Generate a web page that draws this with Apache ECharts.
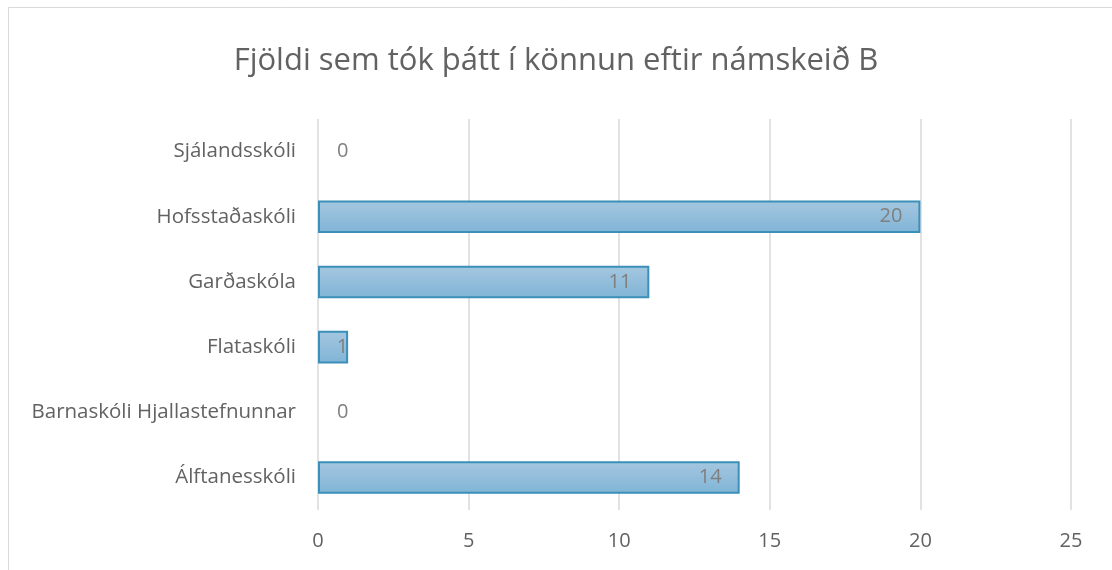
<!DOCTYPE html>
<html>
<head>
<meta charset="utf-8">
<title>Fjöldi sem tók þátt í könnun eftir námskeið B</title>
<script src="https://cdn.jsdelivr.net/npm/echarts@6/dist/echarts.min.js"></script>
<style>
  html, body { margin: 0; padding: 0; background: #fff; overflow: hidden; }
  #chart { width: 1112px; height: 570px; }
</style>
</head>
<body>
<div id="chart"></div>
<script>
// gögn lesin af myndinni (neðst fyrst, eins og í Excel)
var skolar = ['Álftanesskóli', 'Barnaskóli Hjallastefnunnar', 'Flataskóli', 'Garðaskóla', 'Hofsstaðaskóli', 'Sjálandsskóli']
var fjoldi = [14, 0, 1, 11, 20, 0]
var xTicks = [0, 5, 10, 15, 20, 25]

var chart = echarts.init(document.getElementById('chart'))
var font = '"Open Sans", "Noto Sans", sans-serif'

var option = {
  animation: false,
  title: {
    text: 'Fjöldi sem tók þátt í könnun eftir námskeið B',
    left: 'center',
    top: 41,
    textStyle: {
      fontFamily: font,
      fontSize: 31,
      fontWeight: 'normal',
      color: '#626262'
    }
  },
  graphic: [
    {
      // rammi utan um myndritið
      type: 'rect',
      silent: true,
      shape: { x: 8.5, y: 7.5, width: 1200, height: 700 },
      style: { fill: 'none', stroke: '#d9d9d9', lineWidth: 1 }
    }
  ],
  grid: {
    left: 318,
    right: 41,
    top: 119,
    bottom: 60,
    containLabel: false
  },
  xAxis: {
    type: 'value',
    min: xTicks[0],
    max: xTicks[xTicks.length - 1],
    interval: 5,
    axisLine: { show: false },
    axisTick: { show: false },
    axisLabel: {
      fontFamily: font,
      fontSize: 20,
      color: '#626262',
      margin: 21
    },
    splitLine: {
      lineStyle: { color: '#d9d9d9', width: 1.5 }
    }
  },
  yAxis: {
    type: 'category',
    data: skolar,
    axisLine: { show: false },
    axisTick: { show: false },
    axisLabel: {
      fontFamily: font,
      fontSize: 20.5,
      color: '#626262',
      margin: 22
    }
  },
  series: [
    {
      type: 'bar',
      barWidth: '50%',
      data: fjoldi.map(function(v) {
        var item = { value: v }
        if (v === 0) {
          // Excel teiknar ekkert fyrir núll, bara töluna
          item.label = { position: 'right', distance: 19 }
          item.itemStyle = { borderWidth: 0 }
        } else if (v < 2) {
          item.label = { position: 'insideRight', distance: 0 }
        } else {
          item.label = { position: 'insideRight', distance: 18 }
        }
        return item
      }),
      itemStyle: {
        color: new echarts.graphic.LinearGradient(0, 0, 0, 1, [
          { offset: 0, color: '#a5c7e0' },
          { offset: 1, color: '#80b4d6' }
        ]),
        borderColor: '#3a90b8',
        borderWidth: 2
      },
      label: {
        show: true,
        fontFamily: font,
        fontSize: 20,
        color: '#7f7f7f'
      }
    }
  ]
}
chart.setOption(option)
</script>
</body>
</html>
